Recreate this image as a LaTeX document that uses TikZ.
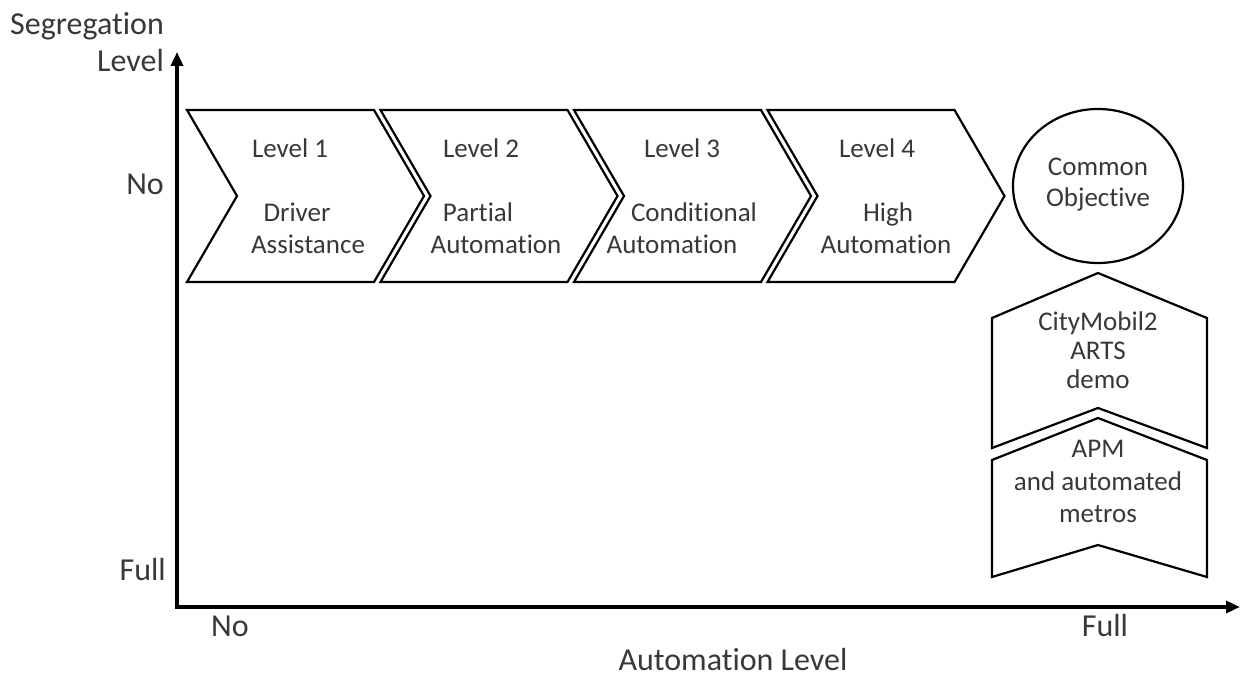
\documentclass[tikz,border=0pt]{standalone}
\usepackage{fontspec}
\setmainfont{Carlito}[Ligatures=NoCommon]
\usetikzlibrary{arrows.meta}
\begin{document}
\begin{tikzpicture}[x=1pt,y=-1pt,
  shapeline/.style={draw=black,line width=2.2pt,line join=miter},
  lbl/.style={text=black!78,font=\fontsize{27}{31}\selectfont,inner sep=0pt,anchor=base},
  axlbl/.style={text=black!78,font=\fontsize{32}{36}\selectfont,inner sep=0pt,anchor=base},
  axisline/.style={line width=3.5pt,{Triangle[length=14pt,width=12pt]}-{Triangle[length=14pt,width=12pt]}}]
\useasboundingbox (0,0) rectangle (1240,677);
% axes
\coordinate (ytip) at (177,52);
\coordinate (O) at (177,607);
\coordinate (xtip) at (1240,607);
\draw[axisline] (ytip) -- (O) -- (xtip);
% axis labels
\node[axlbl,anchor=base east] (seg) at (164,35) {Segregation};
\node[axlbl,anchor=base east] (seglev) at (164,72) {Level};
\node[axlbl,anchor=base east] (yno) at (164,194) {No};
\node[axlbl,anchor=base east] (yfull) at (166,580) {Full};
\node[axlbl] (xno) at (230,636) {No};
\node[axlbl] (xfull) at (1105,636) {Full};
\node[axlbl] (xlab) at (733,670) {Automation Level};
% chevrons
\foreach \x in {187,380.5,574,767.5}
  \draw[shapeline] (\x,110) -- ++(187,0) -- ++(50,86) -- ++(-50,86) -- ++(-187,0) -- ++(50,-86) -- cycle;
% chevron texts
\node[lbl] (l1) at (290,157) {Level 1};
\node[lbl] (d1a) at (297,221) {Driver};
\node[lbl] (d1b) at (308,253) {Assistance};
\node[lbl] (l2) at (481,157) {Level 2};
\node[lbl] (d2a) at (478,221) {Partial};
\node[lbl] (d2b) at (496,253) {Automation};
\node[lbl] (l3) at (682,157) {Level 3};
\node[lbl] (d3a) at (694,221) {Conditional};
\node[lbl] (d3b) at (672,253) {Automation};
\node[lbl] (l4) at (877,157) {Level 4};
\node[lbl] (d4a) at (888,221) {High};
\node[lbl] (d4b) at (886,253) {Automation};
% common objective
\draw[shapeline] (1098,186) ellipse [x radius=85, y radius=77];
\node[lbl] (co1) at (1098,175) {Common};
\node[lbl] (co2) at (1098,206) {Objective};
% lower shapes
\draw[shapeline] (992,318) -- (1098,273) -- (1207,318) -- (1207,448) -- (1098,408) -- (992,448) -- cycle;
\draw[shapeline] (992,460) -- (1098,418) -- (1207,460) -- (1207,577) -- (1098,545) -- (992,577) -- cycle;
\node[lbl] (c1) at (1098,330) {CityMobil2};
\node[lbl] (c2) at (1098,359) {ARTS};
\node[lbl] (c3) at (1098,388) {demo};
\node[lbl] (a1) at (1098,457) {APM};
\node[lbl] (a2) at (1098,490) {and automated};
\node[lbl] (a3) at (1098,522) {metros};
\end{tikzpicture}
\end{document}
